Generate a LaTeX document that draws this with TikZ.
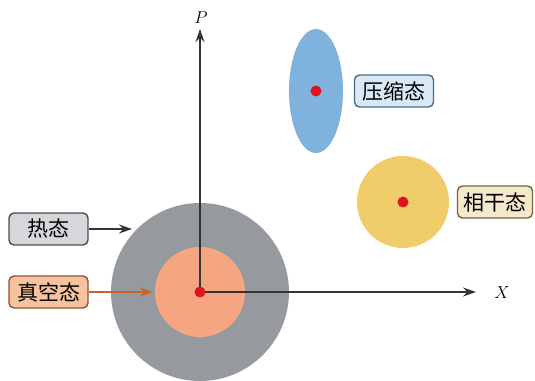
\documentclass[tikz,border=0pt]{standalone}
\usepackage{fontspec}
\newfontfamily\cjk{Noto Sans CJK SC}
\usepackage{tikz}
\usetikzlibrary{arrows.meta}
\definecolor{mygray}{rgb}{0.59,0.60,0.62}
\definecolor{myorange}{rgb}{0.96,0.65,0.50}
\definecolor{myblue}{rgb}{0.50,0.70,0.87}
\definecolor{myyellow}{rgb}{0.94,0.80,0.42}
\definecolor{myred}{rgb}{0.88,0.08,0.12}
\definecolor{myaxis}{rgb}{0.2,0.2,0.22}
\definecolor{myarrow}{rgb}{0.80,0.38,0.16}

\begin{document}
\begin{tikzpicture}[x=1pt,y=1pt,
  statebox/.style={draw,rounded corners=5pt,line width=1.4pt,minimum width=79pt,
    minimum height=32pt,inner sep=2pt,font=\cjk\fontsize{21}{24}\selectfont},
  dot/.style={circle,fill=myred,inner sep=0pt,minimum size=11pt},
  axis/.style={myaxis,line width=1.4pt,-{Stealth[length=13pt,width=9pt]}}]
  \useasboundingbox (0,0) rectangle (535,380);
  % phase space blobs
  \fill[mygray] (200,88) circle (89);
  \node[circle,fill=myorange,minimum size=90pt,inner sep=0pt] (vac) at (200,88) {};
  \fill[myblue] (316,289) ellipse (27 and 62);
  \fill[myyellow] (403,178) circle (46);
  % axes
  \coordinate (O) at (200,88);
  \node[font=\fontsize{18}{20}\selectfont] (plabel) at (201,362) {$P$};
  \node[font=\fontsize{18}{20}\selectfont] (xlabel) at (502,87) {$X$};
  \draw[axis] (O) -- (200,351);
  \draw[axis] (O) -- (476,88);
  % centres
  \node[dot] (c0) at (O) {};
  \node[dot] (c1) at (316,289) {};
  \node[dot] (c2) at (403,178) {};
  % labels
  \node[statebox,fill={rgb,1:red,0.84;green,0.84;blue,0.86},draw={rgb,1:red,0.3;green,0.3;blue,0.32}]
    (thermal) at (48.5,151) {热态};
  \node[statebox,fill={rgb,1:red,0.97;green,0.76;blue,0.62},draw={rgb,1:red,0.55;green,0.33;blue,0.20}]
    (vacuum) at (48.5,88) {真空态};
  \node[statebox,fill={rgb,1:red,0.85;green,0.91;blue,0.96},draw={rgb,1:red,0.30;green,0.42;blue,0.55}]
    (squeezed) at (394,289) {压缩态};
  \node[statebox,minimum width=75pt,fill={rgb,1:red,0.96;green,0.91;blue,0.80},draw={rgb,1:red,0.45;green,0.40;blue,0.25}]
    (coherent) at (495,178) {相干态};
  \coordinate (thermaltip) at (132,151);
  \draw[axis] (thermal) -- (thermaltip);
  \draw[axis,myarrow,shorten >=2pt] (vacuum) -- (vac.west);
\end{tikzpicture}
\end{document}
